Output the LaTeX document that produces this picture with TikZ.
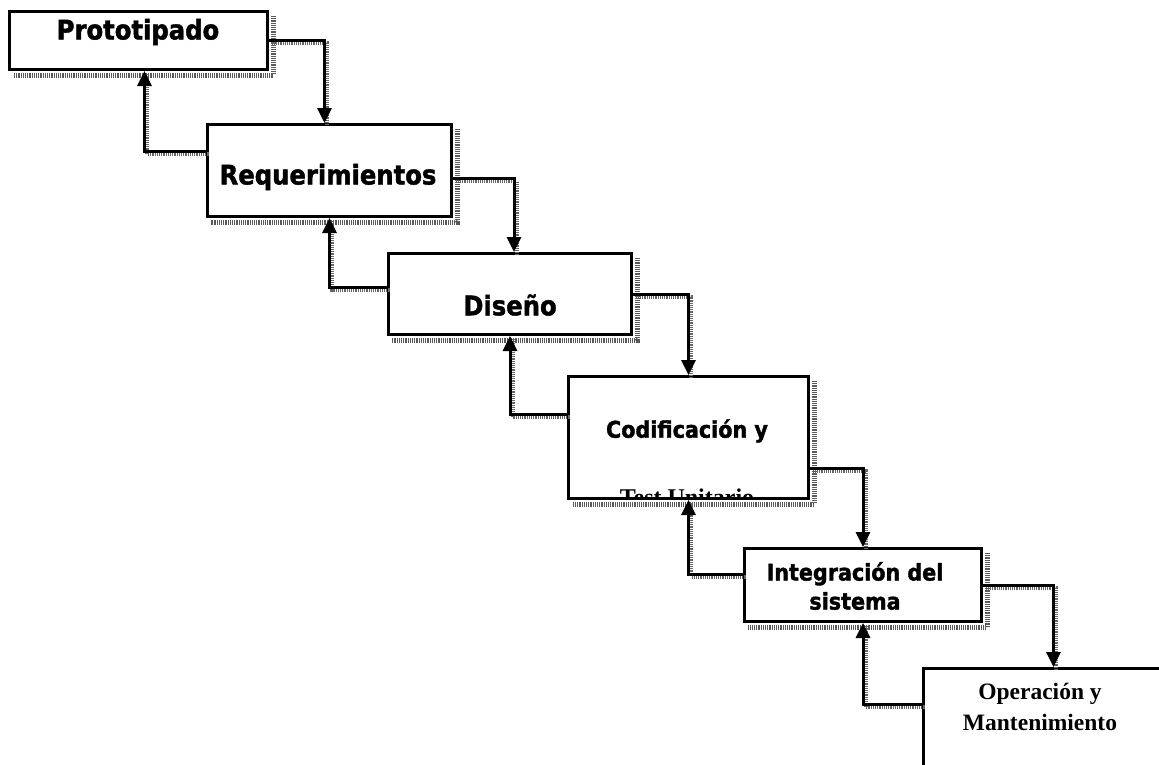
\documentclass[tikz,border=0pt]{standalone}
\usepackage{fontspec}
\usetikzlibrary{arrows.meta}
\newfontfamily\stagesans{DejaVu Sans Condensed}[BoldFeatures={FakeBold=1.6}]
\newfontfamily\stageserif{Liberation Serif}
\begin{document}
\begin{tikzpicture}[x=1pt,y=-1pt,
  stage/.style={draw=black, line width=3pt, fill=white, inner sep=0pt, anchor=north west},
  shadowband/.style={draw=black!65, line width=5pt, dash pattern=on 1.2pt off 1pt},
  flow/.style={draw=black, line width=3pt, -{Triangle[width=14pt,length=15pt]},
    preaction={draw=black!60, arrows=-, line width=4pt, dash pattern=on 1.2pt off 1pt,
      transform canvas={shift={(2.5pt,-2.5pt)}}}},
  sanslabel/.style={font=\stagesans\bfseries\fontsize{27}{30}\selectfont, inner sep=0pt},
  sanssmall/.style={font=\stagesans\bfseries\fontsize{23}{29}\selectfont, inner sep=0pt, align=center},
  seriflabel/.style={font=\stageserif\bfseries\fontsize{23.5}{31}\selectfont, inner sep=0pt, align=center}
]
\useasboundingbox (0,0) rectangle (1159,764);
\clip (0,0) rectangle (1159,764);

% stage boxes
\node[stage, minimum width=258pt, minimum height=58pt] (p) at (8,10) {};
\node[stage, minimum width=244pt, minimum height=92pt] (r) at (206,123) {};
\node[stage, minimum width=243pt, minimum height=81pt] (d) at (387,252) {};
\node[stage, minimum width=240pt, minimum height=122pt] (c) at (567,375) {};
\node[stage, minimum width=237pt, minimum height=73pt] (i) at (743,547) {};
\node[stage, minimum width=260pt, minimum height=130pt] (o) at (922,667) {};

% hatched shadows along the right and lower edges
\foreach \b in {p,r,d,c,i,o}{
  \path[shadowband] ([shift={(4pt,-6pt)}]\b.north east) -- ([shift={(4pt,-4pt)}]\b.south east)
    -- ([shift={(5pt,-4pt)}]\b.south west);
}

% labels
\node[sanslabel] (pt) at (138,32) {Prototipado};
\node[sanslabel] (rt) at (328,177) {Requerimientos};
\node[sanslabel] (dt) at (510,305) {Diseño};
\node[sanssmall] (ct) at (687,431) {Codificación y};
\begin{scope}
  \clip (c.north west) rectangle ([yshift=1pt]c.south east);
  \node[font=\stageserif\bfseries\fontsize{24}{28}\selectfont, inner sep=0pt, anchor=base] (ct2) at (687,505) {Test Unitario};
\end{scope}
\node[sanssmall] (it) at (855,586) {Integración del\\sistema};
\node[seriflabel] (ot) at (1040,707) {Operación y\\Mantenimiento};

% forward flow
\draw[flow] (p.east) -| ([xshift=-5pt]r.north);
\draw[flow] ([yshift=-8pt]r.east) -| ([xshift=4pt]d.north);
\draw[flow] (d.east) -| (c.north);
\draw[flow] ([yshift=-31pt]c.east) -| (i.north);
\draw[flow] (i.east) -| (o.north);

% feedback flow
\draw[flow] ([yshift=19pt]r.west) -| ([xshift=6pt]p.south);
\draw[flow] ([yshift=7pt]d.west) -| (r.south);
\draw[flow] ([yshift=23pt]c.west) -| (d.south);
\draw[flow] ([yshift=11pt]i.west) -| (c.south);
\draw[flow] ([yshift=29pt]o.west) -| (i.south);
\end{tikzpicture}
\end{document}
